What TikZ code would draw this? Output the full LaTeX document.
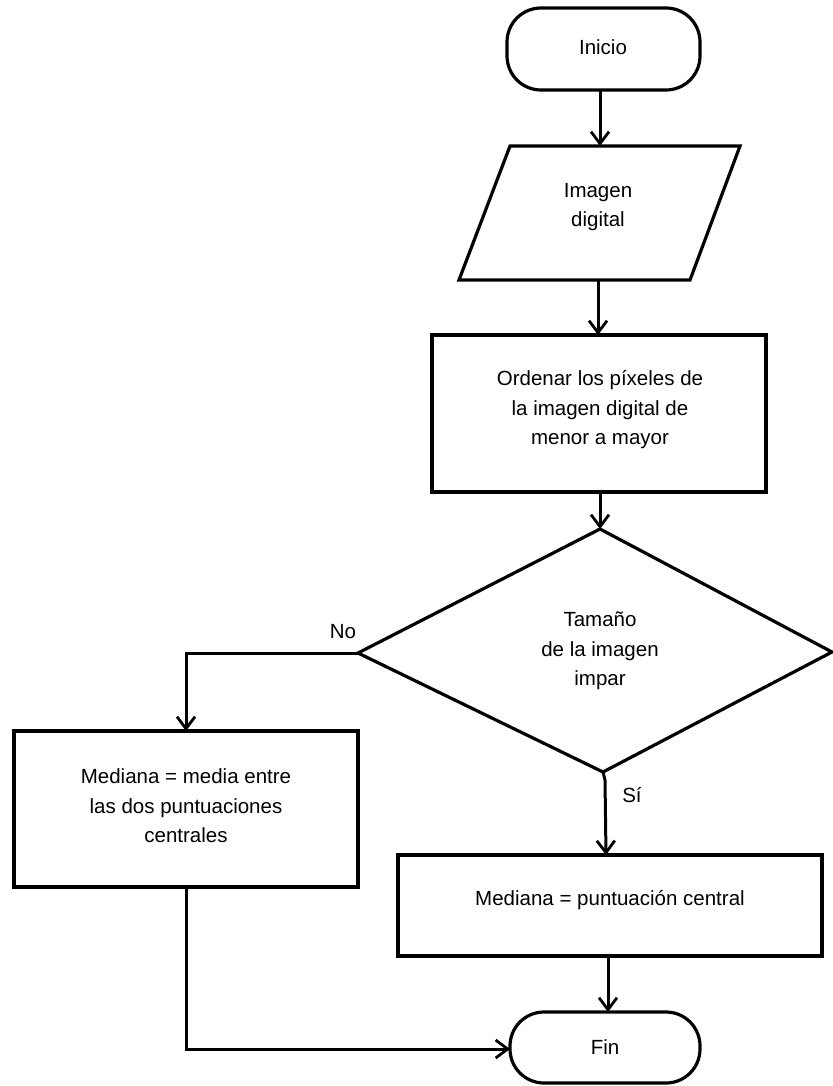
\documentclass[tikz,border=0pt]{standalone}
\usepackage{fontspec}
\setmainfont{Liberation Sans}
\usetikzlibrary{arrows.meta,calc}
\begin{document}
\begin{tikzpicture}[x=1pt,y=-1pt,
  line width=3.2pt,
  flowline/.style={line width=3pt,-{Straight Barb[length=12pt,width=18pt,line width=2.8pt]}},
  lbl/.style={font=\fontsize{20.5}{29.5}\selectfont, align=center}]
\useasboundingbox (0,0) rectangle (832,1086);
\fill[white] (0,0) rectangle (832,1086);

% terminals
\draw[rounded corners=34pt] (507,8) rectangle (700,90);
\node[lbl] (inicio) at (603,47) {Inicio};
\coordinate (inicioB) at (600,90);

% input
\draw (510,146) -- (740,146) -- (690,280) -- (459,280) -- cycle;
\node[lbl] (img) at (598,207) {Imagen\\digital};
\coordinate (imgT) at (600,146);
\coordinate (imgB) at (598,280);

% sort step
\draw (432,335) rectangle (766,492);
\node[lbl] (ord) at (600,410) {Ordenar los píxeles de\\la imagen digital de\\menor a mayor};
\coordinate (ordT) at (598,335);
\coordinate (ordB) at (600,492);

% decision
\draw (600,529) -- (832,652) -- (603,772) -- (358,653) -- cycle;
\node[lbl] (dec) at (600,651) {Tamaño\\de la imagen\\impar};
\coordinate (decT) at (600,529);
\coordinate (decL) at (358,653);
\coordinate (decB) at (603,772);

% branch boxes
\draw (14,731) rectangle (358,887);
\node[lbl] (par) at (186,806) {Mediana = media entre\\las dos puntuaciones\\centrales};
\coordinate (parT) at (186,731);
\coordinate (parB) at (186,887);

\draw (398,855) rectangle (822,956);
\node[lbl] (imp) at (610,900) {Mediana = puntuación central};
\coordinate (impT) at (606,855);
\coordinate (impB) at (608,956);

% end
\draw[rounded corners=34pt] (510,1012) rectangle (700,1083);
\node[lbl] (fin) at (605,1047) {Fin};
\coordinate (finT) at (608,1012);
\coordinate (finL) at (510,1049);

% connectors
\draw[flowline] (inicioB) -- (imgT);
\draw[flowline] (imgB) -- (ordT);
\draw[flowline] (ordB) -- (decT);
\draw[flowline] (decL) -- (186,653) -- (parT);
\draw[flowline] (decB) -- (605,780) -- (impT);
\draw[flowline] (impB) -- (finT);
\draw[flowline] (parB) -- (186,1049) -- (finL);

% branch labels
\node[lbl] (no) at (343,632) {No};
\node[lbl] (si) at (632,795) {Sí};
\end{tikzpicture}
\end{document}
